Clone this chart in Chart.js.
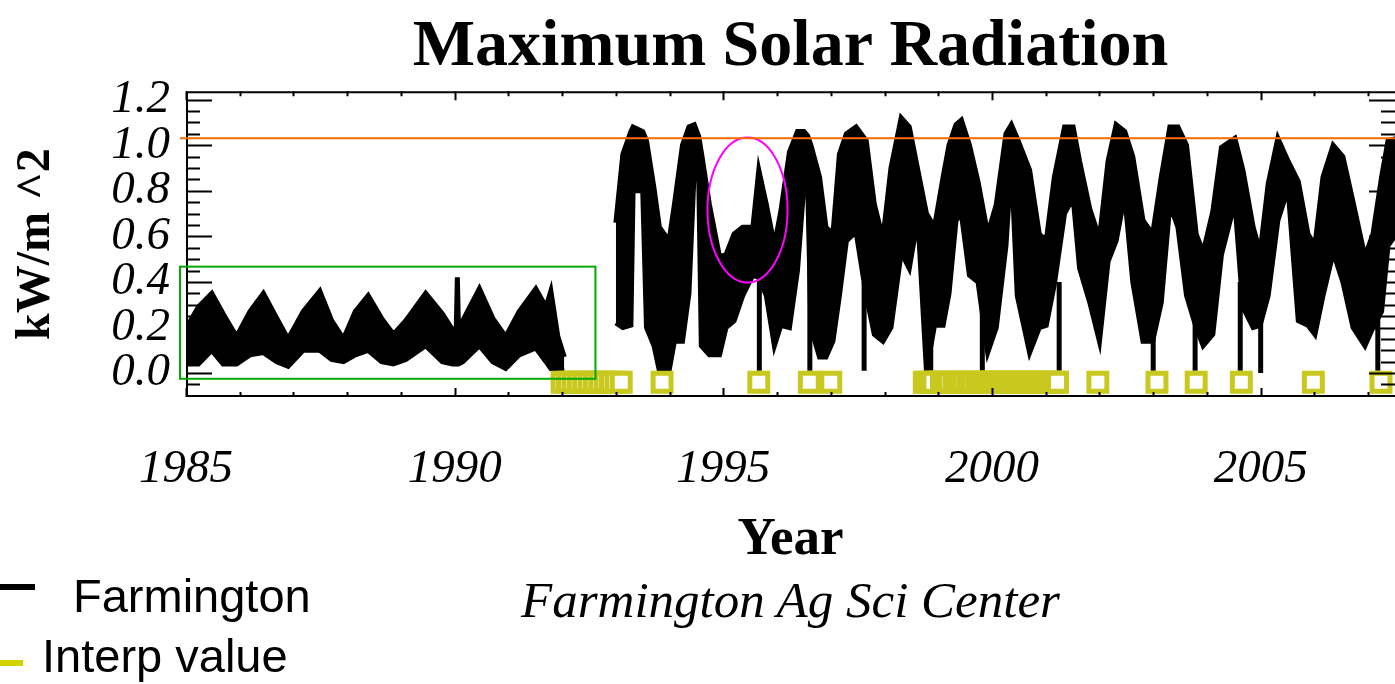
<!DOCTYPE html>
<html>
<head>
<meta charset="utf-8">
<title>Maximum Solar Radiation</title>
<script src="https://cdn.jsdelivr.net/npm/chart.js@4.4.1/dist/chart.umd.min.js"></script>
<style>
  html, body { margin: 0; padding: 0; background: #fff; overflow: hidden; }
  #wrap { position: relative; width: 1395px; height: 684px; }
  #chart { position: absolute; left: 0; top: 0; }
  .caption { position: absolute; left: 186px; width: 1209px; top: 575px; text-align: center;
             font: italic 51px/1 'Liberation Serif', 'Times New Roman', serif; color: #000; }
  .legend-item { position: absolute; font: 47px/1 'Liberation Sans', Arial, sans-serif; color: #000; white-space: nowrap; }
  .swatch { position: absolute; height: 6px; }
</style>
</head>
<body>
<div id="wrap">
  <canvas id="chart" width="1395" height="684"></canvas>
  <div class="caption">Farmington Ag Sci Center</div>
  <div class="swatch" style="left:0;top:584px;width:35px;background:#000"></div>
  <div class="legend-item" style="left:73px;top:572px">Farmington</div>
  <div class="swatch" style="left:0;top:660px;width:23px;background:#d2d200"></div>
  <div class="legend-item" style="left:42px;top:632px">Interp value</div>
</div>
<script>
const SERIF = "'Liberation Serif', 'Times New Roman', serif";

// Farmington daily maximum (kW/m^2), read as the top and bottom edge of the plotted trace
const years = [
    1985.01, 1985.23, 1985.48, 1985.69, 1985.94, 1986.19, 1986.44, 1986.69, 1986.9, 1987.18,
    1987.49, 1987.71, 1987.93, 1988.15, 1988.39, 1988.64, 1988.86, 1989.09, 1989.46, 1989.77,
    1989.96, 1990.03, 1990.05, 1990.07, 1990.15, 1990.46, 1990.71, 1990.95, 1991.2, 1991.51,
    1991.7, 1991.79, 1991.92, 1992.04,
    1992.5, // no record
    1993.0, 1993.13, 1993.28, 1993.32, 1993.5, 1993.57, 1993.71, 1993.81, 1993.99, 1994.09,
    1994.24, 1994.36, 1994.46, 1994.54, 1994.59, 1994.74, 1994.93, 1995.05, 1995.2, 1995.36,
    1995.55, 1995.66, 1995.8, 1995.95, 1996.07, 1996.23, 1996.38, 1996.5, 1996.57, 1996.63,
    1996.79, 1996.91, 1997.04, 1997.16, 1997.29, 1997.47, 1997.66, 1997.81, 1997.97, 1998.12,
    1998.31, 1998.46, 1998.62, 1998.78, 1998.93, 1999.09, 1999.2, 1999.33, 1999.43, 1999.58,
    1999.74, 1999.92, 2000.08, 2000.26, 2000.36, 2000.47, 2000.7, 2000.88, 2001.01, 2001.16,
    2001.35, 2001.51, 2001.63, 2001.82, 2002.0, 2002.16, 2002.31, 2002.47, 2002.62, 2002.81,
    2002.99, 2003.15, 2003.31, 2003.46, 2003.62, 2003.8, 2003.93, 2004.11, 2004.27, 2004.52,
    2004.67, 2004.86, 2004.99, 2005.14, 2005.32, 2005.51, 2005.7, 2005.88, 2006.01, 2006.16,
    2006.35, 2006.53, 2006.72, 2006.94, 2007.09, 2007.25, 2007.37, 2007.53
];
const upper = [
    0.20, 0.29, 0.35, 0.26, 0.16, 0.27, 0.35, 0.24, 0.15, 0.27,
    0.36, 0.23, 0.15, 0.27, 0.34, 0.24, 0.17, 0.23, 0.35, 0.26,
    0.19, 0.20, 0.42, 0.21, 0.23, 0.37, 0.24, 0.16, 0.27, 0.37,
    0.29, 0.36, 0.16, 0.07,
    null,
    0.66, 0.96, 1.06, 1.08, 1.06, 1.02, 0.81, 0.64, 0.58, 0.74,
    1.00, 1.08, 1.09, 1.04, 0.97, 0.74, 0.51, 0.52, 0.61, 0.64,
    0.64, 0.89, 0.74, 0.56, 0.71, 0.97, 1.06, 1.06, 1.04, 1.00,
    0.86, 0.64, 0.61, 0.96, 1.05, 1.08, 1.02, 0.74, 0.59, 0.90,
    1.12, 1.08, 0.89, 0.70, 0.64, 0.86, 1.00, 1.09, 1.11, 1.00,
    0.84, 0.61, 0.74, 1.05, 1.09, 1.03, 0.89, 0.61, 0.58, 0.86,
    1.08, 1.08, 0.93, 0.72, 0.59, 0.93, 1.09, 1.06, 0.95, 0.67,
    0.61, 0.86, 1.08, 1.08, 1.00, 0.61, 0.53, 0.71, 0.99, 1.03,
    0.89, 0.64, 0.53, 0.83, 1.03, 0.93, 0.84, 0.61, 0.56, 0.86,
    1.00, 0.95, 0.75, 0.51, 0.61, 0.86, 1.02, 1.03
];
const lower = [
    0.04, 0.04, 0.10, 0.04, 0.04, 0.08, 0.09, 0.05, 0.03, 0.10,
    0.10, 0.06, 0.05, 0.08, 0.10, 0.05, 0.04, 0.06, 0.12, 0.05,
    0.04, 0.04, 0.04, 0.04, 0.05, 0.12, 0.05, 0.02, 0.08, 0.11,
    0.05, 0.02, 0.01, 0.01,
    null,
    0.22, 0.20, 0.21, 0.80, 0.80, 0.20, 0.12, 0.01, 0.01, 0.14,
    0.14, 0.35, 0.90, 0.90, 0.12, 0.08, 0.08, 0.20, 0.23, 0.34,
    0.43, 0.42, 0.34, 0.12, 0.21, 0.20, 0.45, 0.83, 0.83, 0.20,
    0.07, 0.07, 0.14, 0.34, 0.58, 0.62, 0.34, 0.17, 0.14, 0.20,
    0.53, 0.46, 0.68, 0.01, 0.21, 0.21, 0.35, 0.67, 0.70, 0.43,
    0.40, 0.09, 0.20, 0.56, 0.93, 0.34, 0.09, 0.20, 0.21, 0.39,
    0.70, 0.77, 0.46, 0.31, 0.14, 0.49, 0.58, 0.78, 0.40, 0.14,
    0.14, 0.31, 0.74, 0.64, 0.34, 0.20, 0.12, 0.17, 0.52, 0.75,
    0.29, 0.20, 0.21, 0.34, 0.67, 0.81, 0.23, 0.21, 0.17, 0.34,
    0.53, 0.40, 0.20, 0.12, 0.20, 0.27, 0.56, 0.61
];

// single days that drop to the axis
const dipYears = [1995.67, 1996.61, 1997.62, 1998.86, 1999.82, 2001.25, 2003.0, 2003.78, 2004.62, 2005.0, 2007.18];
const dipLow   = [0.01, 0.01, 0.01, 0.01, 0.01, 0.01, 0.01, 0.01, 0.01, 0.0, 0.01];
const dipHigh  = [0.42, 0.60, 0.40, 0.50, 0.40, 0.40, 0.30, 0.30, 0.40, 0.30, 0.30];

// days filled by interpolation, marked just under zero
const interpYears = [
    1992.0, 1992.1, 1992.2, 1992.3, 1992.4, 1992.5, 1992.6, 1992.7, 1992.8, 1992.9, 1993.0, 1993.1,
    1993.86, 1995.66, 1996.6, 1997.0,
    1998.74, 1998.82, 1998.9, 1999.06, 1999.12, 1999.2, 1999.3, 1999.38, 1999.46, 1999.55,
    1999.63, 1999.72, 1999.8, 1999.88, 1999.96, 2000.04, 2000.12, 2000.2, 2000.28, 2000.36,
    2000.44, 2000.52, 2000.6, 2000.68, 2000.76, 2000.84, 2000.92, 2001.0, 2001.07, 2001.15, 2001.22,
    2001.97, 2003.07, 2003.8, 2004.64, 2005.98, 2007.24
];
const interpLevel = -0.04;

const referenceLevel = 1.03;

const upperPoints = years.map((x, i) => ({x: x, y: upper[i]}));
const lowerPoints = years.map((x, i) => ({x: x, y: lower[i]}));
const interpPoints = interpYears.map(x => ({x: x, y: interpLevel}));
const dipPoints = [];
dipYears.forEach((x, i) => {
    dipPoints.push({x: x, y: dipLow[i]}, {x: x, y: dipHigh[i]}, {x: x, y: null});
});

// annotations, inward ticks and the plot frame
const overlayPlugin = {
    id: 'overlay',
    afterDatasetsDraw(chart) {
        const {ctx, chartArea: area, scales: {x, y}} = chart;
        ctx.save();

        // frame
        ctx.strokeStyle = '#000';
        ctx.lineWidth = 2;
        ctx.beginPath();
        ctx.moveTo(area.right + 2, area.top + 1);
        ctx.lineTo(area.left + 1, area.top + 1);
        ctx.lineTo(area.left + 1, area.bottom - 1);
        ctx.lineTo(area.right + 2, area.bottom - 1);
        ctx.stroke();

        // y ticks every 0.05, long every 0.2, both sides
        ctx.beginPath();
        for (let i = -1; i <= 24; i++) {
            const py = Math.round(y.getPixelForValue(i * 0.05)) + 0.5;
            const len = i % 4 === 0 ? 26 : 14;
            ctx.moveTo(area.left, py);
            ctx.lineTo(area.left + len, py);
            ctx.moveTo(area.right, py);
            ctx.lineTo(area.right - len, py);
        }
        // x ticks every year, top and bottom
        for (let yr = 1985; yr <= 2007; yr++) {
            const px = Math.round(x.getPixelForValue(yr)) + 0.5;
            const len = yr % 5 === 0 ? 9 : 5;
            ctx.moveTo(px, area.bottom);
            ctx.lineTo(px, area.bottom - len);
            ctx.moveTo(px, area.top);
            ctx.lineTo(px, area.top + len);
        }
        ctx.stroke();

        // green box round the early low readings
        const bx0 = area.left - 6;
        const bx1 = x.getPixelForValue(1992.62);
        const by0 = y.getPixelForValue(0.467);
        const by1 = y.getPixelForValue(-0.025);
        ctx.strokeStyle = '#00a800';
        ctx.strokeRect(bx0, by0, bx1 - bx0, by1 - by0);

        // magenta ellipse round the 1995 anomaly
        const cx = x.getPixelForValue(1995.45);
        const cy = y.getPixelForValue(0.716);
        const rx = x.getPixelForValue(1995.45 + 0.745) - cx;
        const ry = y.getPixelForValue(0.716 - 0.318) - cy;
        ctx.strokeStyle = '#ff00ff';
        ctx.beginPath();
        ctx.ellipse(cx, cy, rx, ry, 0, 0, Math.PI * 2);
        ctx.stroke();

        // reference level
        const ly = y.getPixelForValue(referenceLevel);
        ctx.strokeStyle = '#ff6a00';
        ctx.beginPath();
        ctx.moveTo(area.left - 6, ly);
        ctx.lineTo(area.right, ly);
        ctx.stroke();

        ctx.restore();
    }
};

const ctx = document.getElementById('chart').getContext('2d');
new Chart(ctx, {
    type: 'line',
    data: {
        datasets: [
            {
                label: 'Interp value',
                data: interpPoints,
                showLine: false,
                pointStyle: 'rect',
                pointRadius: 12.7,
                pointBorderWidth: 5,
                pointBorderColor: '#c8c81e',
                pointBackgroundColor: '#fff',
                order: 0
            },
            {
                label: 'Farmington',
                data: upperPoints,
                borderColor: '#000',
                borderWidth: 5,
                pointRadius: 0,
                fill: false,
                order: 2
            },
            {
                label: 'Farmington (low edge)',
                data: lowerPoints,
                borderColor: '#000',
                backgroundColor: '#000',
                borderWidth: 5,
                pointRadius: 0,
                fill: '-1',
                order: 2
            },
            {
                label: 'Farmington (drops)',
                data: dipPoints,
                borderColor: '#000',
                borderWidth: 5,
                pointRadius: 0,
                fill: false,
                order: 1
            }
        ]
    },
    options: {
        responsive: false,
        animation: false,
        devicePixelRatio: 1,
        layout: { padding: 0, autoPadding: false },
        plugins: {
            legend: { display: false },
            tooltip: { enabled: false },
            title: {
                display: true,
                text: 'Maximum Solar Radiation',
                fullSize: false,
                color: '#000',
                font: { family: SERIF, size: 66, weight: 'bold', lineHeight: 1.2 },
                padding: { top: 8, bottom: 4 }
            }
        },
        scales: {
            x: {
                type: 'linear',
                min: 1985,
                max: 2007.5,
                grid: { display: false, drawTicks: false },
                border: { display: false },
                ticks: {
                    stepSize: 5,
                    includeBounds: false,
                    autoSkip: false,
                    maxRotation: 0,
                    padding: 44,
                    color: '#000',
                    font: { family: SERIF, size: 47, style: 'italic' },
                    callback: v => String(v)
                },
                title: {
                    display: true,
                    text: 'Year',
                    color: '#000',
                    font: { family: SERIF, size: 53, weight: 'bold', lineHeight: 1.2 },
                    padding: { top: 0, bottom: 112 }
                },
                afterFit(scale) { scale.height = 287; }
            },
            y: {
                min: -0.105,
                max: 1.237,
                grid: { display: false, drawTicks: false },
                border: { display: false },
                ticks: {
                    stepSize: 0.2,
                    includeBounds: false,
                    autoSkip: false,
                    padding: 16,
                    color: '#000',
                    font: { family: SERIF, size: 47, style: 'italic' },
                    callback: v => v.toFixed(1)
                },
                title: {
                    display: true,
                    text: 'kW/m ^2',
                    color: '#000',
                    font: { family: SERIF, size: 48, weight: 'bold', lineHeight: 1.2 },
                    padding: { top: 8, bottom: 0 }
                },
                afterFit(scale) { scale.width = 186; }
            }
        }
    },
    plugins: [overlayPlugin]
});
</script>
</body>
</html>
